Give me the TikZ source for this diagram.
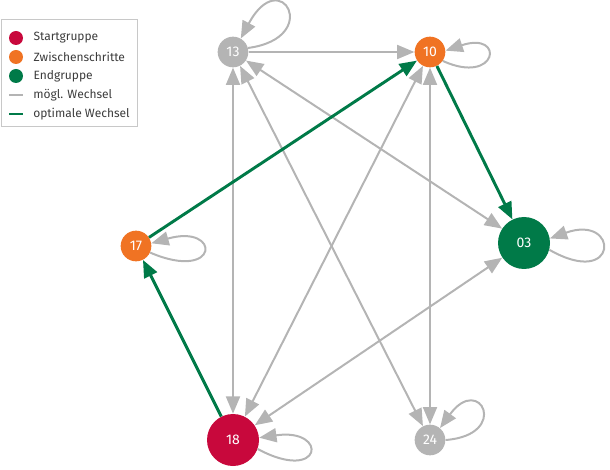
\documentclass[tikz,border=0pt]{standalone}
\usepackage{fontspec}
\setmainfont{Fira Sans}
\usetikzlibrary{arrows.meta,positioning}
\definecolor{startred}{RGB}{200,8,60}
\definecolor{midorange}{RGB}{240,115,35}
\definecolor{endgreen}{RGB}{0,122,72}
\definecolor{linegray}{RGB}{180,180,180}
\definecolor{boxgray}{RGB}{200,200,200}
\definecolor{textgray}{RGB}{60,60,60}

\begin{document}
\begin{tikzpicture}[x=0.75pt,y=-0.75pt,
    state/.style={circle,fill=#1,text=white,inner sep=0pt,minimum size=23pt,
      font=\fontsize{10.5}{10.5}\selectfont},
    bigstate/.style={state=#1,minimum size=39pt},
    tip/.tip={Triangle[length=13pt,width=10.5pt]},
    move/.style={draw=linegray,line width=1.5pt,-tip},
    both/.style={move,tip-tip},
    best/.style={draw=endgreen,line width=2.2pt,-tip},
    keydot/.style={circle,fill=#1,inner sep=0pt,minimum size=10.5pt},
    keytext/.style={right=7.5pt of #1,inner sep=0pt,text=textgray,
      font=\fontsize{9}{9}\selectfont}]
  \useasboundingbox (0,0) rectangle (610,470);

  % states
  \node[state=linegray] (n13) at (233,52) {13};
  \node[state=midorange] (n10) at (430,52) {10};
  \node[state=midorange] (n17) at (136,246) {17};
  \node[bigstate=endgreen] (n03) at (524,243) {03};
  \node[bigstate=startred] (n18) at (233,440) {18};
  \node[state=linegray] (n24) at (430,440) {24};

  % possible changes
  \draw[move] (n13) -- (n10);
  \draw[both] (n13) -- (n18);
  \draw[both] (n13) -- (n24);
  \draw[both] (n13) -- (n03);
  \draw[both] (n10) -- (n18);
  \draw[both] (n10) -- (n24);
  \draw[both] (n03) -- (n18);

  % loops
  \draw[move] (n13.15) .. controls +(75,-10) and +(40,-75) .. (n13.60);
  \draw[move] (n10.-35) .. controls +(55,25) and +(60,-20) .. (n10.5);
  \draw[move] (n17.-25) .. controls +(70,30) and +(70,-20) .. (n17.10);
  \draw[move] (n03.-15) .. controls +(70,40) and +(70,-25) .. (n03.10);
  \draw[move] (n18.-20) .. controls +(65,35) and +(70,-10) .. (n18.5);
  \draw[move] (n24.0) .. controls +(65,-5) and +(40,-55) .. (n24.50);

  % optimal path
  \draw[best] (n18) -- (n17);
  \draw[best] (n17) -- (n10);
  \draw[best] (n10) -- (n03);

  % legend
  \draw[boxgray,line width=0.75pt] (1,20) rectangle (137,127);
  \node[keydot=startred] (kstart) at (16,38) {};
  \node[keytext=kstart] {Startgruppe};
  \node[keydot=midorange] (kmid) at (16,57) {};
  \node[keytext=kmid] {Zwischenschritte};
  \node[keydot=endgreen] (kend) at (16,76) {};
  \node[keytext=kend] {Endgruppe};
  \coordinate (kmove) at (9,95);
  \coordinate (kmoveend) at (23,95);
  \draw[linegray,line width=1.5pt] (kmove) -- (kmoveend);
  \node[keytext=kmoveend] {mögl. Wechsel};
  \coordinate (kbest) at (9,114);
  \coordinate (kbestend) at (23,114);
  \draw[endgreen,line width=2.2pt] (kbest) -- (kbestend);
  \node[keytext=kbestend] {optimale Wechsel};
\end{tikzpicture}
\end{document}
